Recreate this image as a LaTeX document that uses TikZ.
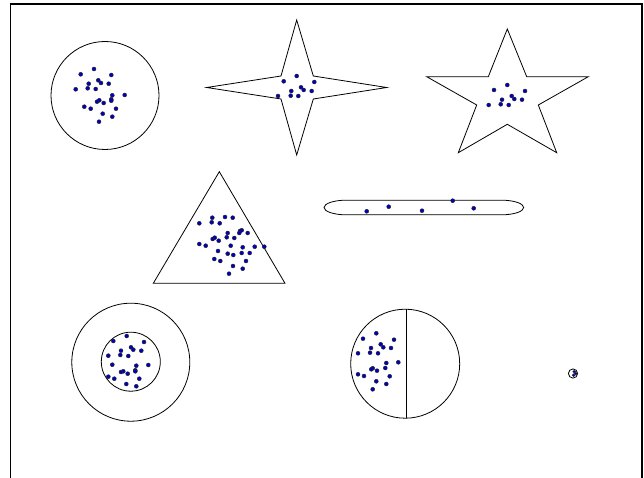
\documentclass[tikz,border=0pt]{standalone}
\usepackage{tikz}
\definecolor{dotblue}{RGB}{0,0,190}
\tikzset{
  shape line/.style={draw=black, line width=0.8pt},
  frame line/.style={draw=black, line width=1.8pt},
  dotmark/.style={fill=dotblue, draw=black!85, line width=0.45pt},
}
\newcommand{\dotset}[1]{\foreach \px/\py in {#1} {\filldraw[dotmark] (\px,\py) circle (2.0);}}
\begin{document}
\begin{tikzpicture}[x=1pt,y=-1pt]
\useasboundingbox (0,0) rectangle (644,478);
% frame
\draw[frame line] (10.5,478) -- (10.5,4) -- (642,4);
\draw[draw=black, line width=1.2pt] (642,3.2) -- (642,478);
% 1 circle
\draw[shape line] (105,95.5) circle (54);
\dotset{80.7/74.3, 94/69, 111.3/75, 88.7/83.7, 98.3/80.3, 101/83, 108.7/83.7, 75.7/89.3, 87.7/88.3, 95.7/89, 124.7/95, 112.3/95.3, 111.3/99.3, 111.3/100.7, 99.3/100.3, 97/101.7, 103.7/103, 84.3/106.7, 90.7/108.7, 116/108.7, 102.7/113.7, 112.3/116.7, 99/121.7}
% 2 four-point star
\draw[shape line] (296.7,20) -- (313.3,76) -- (386.7,87.5) -- (313.3,99) -- (296.7,155) -- (281,99) -- (206.7,87.5) -- (281,76) -- cycle;
\dotset{296.7/76, 283.7/81.3, 314.3/82, 301/87.3, 303.7/90, 311.7/91, 291.3/91, 290.7/95.7, 298.3/96, 278/96}
% 3 five-point star
\draw[shape line] (507.3,29) -- (526.7,76.7) -- (588.3,76.7) -- (538.3,105) -- (556.7,152.7) -- (507.3,124.3) -- (458.3,152.7) -- (476.7,105) -- (426.7,76.7) -- (488.3,76.7) -- cycle;
\dotset{507.3/85, 494/90, 525/91, 511.7/96, 514.3/99, 502/99.7, 522/99.7, 488.7/105, 500.7/104.3, 508.7/105}
% 4 triangle
\draw[shape line] (219.3,171.7) -- (285,283.3) -- (153.3,283.3) -- cycle;
\dotset{199.3/223.3, 212.3/217.7, 211.7/222.3, 219.7/223.3, 225/217, 232.7/217.7, 227.7/233, 240/231, 241.7/230.3, 239.3/233, 247.7/233, 212.7/239, 214.7/237.7, 218.7/240.7, 226.7/237.3, 234.3/238, 199.3/244, 205.7/245.7, 230.7/245.7, 242.7/247.3, 254.7/246.7, 264.3/246.7, 218/251, 227.7/253.7, 233.3/255, 241.7/253, 249.7/253, 214.3/259, 220.3/261, 246/261, 233/266, 242.7/268.7, 229/273.7}
% 5 capsule
\draw[shape line] (501.7,200.2) .. controls (513.7,200.2) and (523.7,203.5) .. (523.7,207.5)
  .. controls (523.7,211.5) and (513.7,214.8) .. (501.7,214.8) -- (346,214.8)
  .. controls (334,214.8) and (324,211.5) .. (324,207.5)
  .. controls (324,203.5) and (334,200.2) .. (346,200.2) -- cycle;
\dotset{366.7/211.3, 388.7/206.7, 422/210.7, 452.7/200.7, 473.7/208.3}
% 6 concentric circles
\draw[shape line] (130.8,362.2) circle (59);
\draw[shape line] (130.8,361.7) circle (29.5);
\dotset{113.3/341, 126.7/336, 144/342, 121/350.7, 131/347.3, 133.3/349.7, 141.3/350.7, 108.3/355.7, 120.3/355, 128.3/356, 112.3/364.7, 136.3/365.7, 148.3/365, 135.3/370.3, 135.3/371.3, 123.3/371.3, 121/372, 127.7/373.7, 108.3/376.7, 114.3/378.7, 139.3/378.7, 126.3/384, 136.3/386.3}
% 7 divided circle
\draw[shape line] (405.2,363.7) circle (54.5);
\draw[shape line] (405.9,309.2) -- (405.9,418.2);
\dotset{376.3/333.3, 363/338.7, 394/339.7, 380.7/344.3, 383.3/347.3, 371/348, 391/348, 358/353.3, 370/352.7, 378/353.3, 398.3/362.3, 386.3/363, 385.3/368, 372.7/368.3, 371.3/369.3, 377/370.7, 358/374.3, 364/376, 389.7/376.3, 376.3/381.3, 386.3/384, 372.7/389.3}
% 8 tiny circle
\draw[shape line] (573,373.5) circle (4.6);
\foreach \px/\py in {574.2/371.6, 575.8/373.6, 573.6/375.2} {\filldraw[dotmark, line width=0.3pt] (\px,\py) circle (1.5);}
\end{tikzpicture}
\end{document}
